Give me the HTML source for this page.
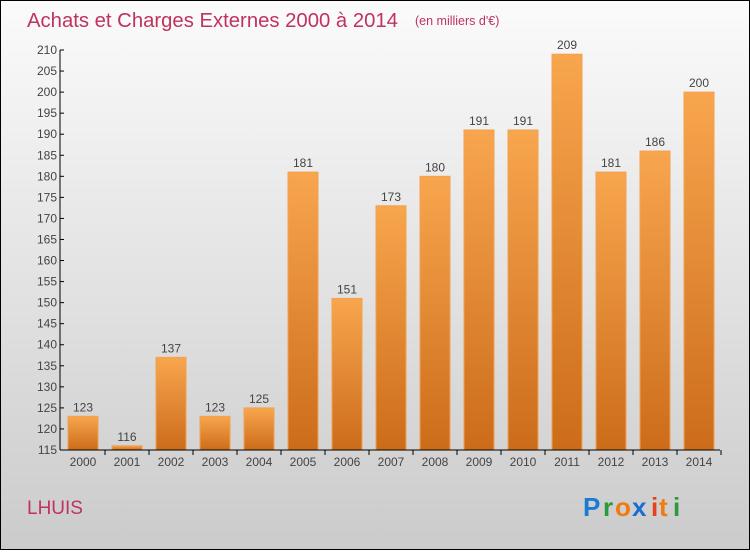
<!DOCTYPE html>
<html><head><meta charset="utf-8">
<style>
html,body{margin:0;padding:0;}
body{width:750px;height:550px;overflow:hidden;font-family:"Liberation Sans",sans-serif;}
</style></head>
<body>
<svg width="750" height="550" xmlns="http://www.w3.org/2000/svg">
<defs>
<linearGradient id="bg" x1="0" y1="0" x2="0" y2="1">
<stop offset="0" stop-color="#fbfbfb"/><stop offset="1" stop-color="#cbcbcb"/>
</linearGradient>
<linearGradient id="bar" x1="0" y1="0" x2="0" y2="1">
<stop offset="0" stop-color="#f8a64e"/><stop offset="1" stop-color="#cc6c1a"/>
</linearGradient>
</defs>
<rect x="0.5" y="0.5" width="749" height="549" fill="url(#bg)" stroke="#000"/>
<text x="27" y="27" font-size="20.3" fill="#c0335f">Achats et Charges Externes 2000 à 2014</text>
<text x="415" y="25" font-size="12.5" fill="#c0335f">(en milliers d'€)</text>
<g id="yaxis"></g>
<g id="bars"></g>
<g id="xaxis"></g>
<text x="27" y="514" font-size="19" fill="#c0335f">LHUIS</text>
<g font-size="26" font-weight="bold" font-family="'Liberation Sans',sans-serif">
<text x="583" y="516" fill="#1a7ad4">P</text>
<text x="603" y="516" fill="#2a9a3a">r</text>
<text x="615" y="516" fill="#f07a10">o</text>
<text x="632" y="516" fill="#1a6ed0">x</text>
<text x="651" y="516" fill="#e8401a">i</text>
<text x="659" y="516" fill="#f07a10">t</text>
<text x="673" y="516" fill="#2a9a3a">i</text>
</g>
</svg>
<script>
const years=["2000","2001","2002","2003","2004","2005","2006","2007","2008","2009","2010","2011","2012","2013","2014"];
const values=[123,116,137,123,125,181,151,173,180,191,191,209,181,186,200];
const yTicks=[115,120,125,130,135,140,145,150,155,160,165,170,175,180,185,190,195,200,205,210];
const NS="http://www.w3.org/2000/svg";
const yMin=115,yMax=210,plotTop=50,plotBot=450,plotLeft=60,x0=83,step=44,bw=30;
const yS=v=>plotBot-(v-yMin)/(yMax-yMin)*(plotBot-plotTop);
const xS=i=>x0+i*step;
function mk(tag,attrs,parent,txt){const e=document.createElementNS(NS,tag);for(const k in attrs)e.setAttribute(k,attrs[k]);if(txt!==undefined)e.textContent=txt;parent.appendChild(e);return e;}
const ya=document.getElementById('yaxis'),ba=document.getElementById('bars'),xa=document.getElementById('xaxis');
let l=mk('line',{x1:plotLeft,x2:plotLeft,y1:plotTop,y2:plotBot,stroke:'#000','stroke-width':1},ya);


yTicks.forEach(t=>{
 let tk=mk('line',{x1:plotLeft,x2:plotLeft+4,y1:yS(t),y2:yS(t),stroke:'#000'},ya);
 
 
 let tx=mk('text',{x:plotLeft-3,y:yS(t)+4,'text-anchor':'end','font-size':12,fill:'#444'},ya,t);
 
 
});
let xl=mk('line',{x1:plotLeft,x2:720,y1:plotBot,y2:plotBot,stroke:'#000'},xa);


years.forEach((yr,i)=>{
 const v=values[i];
 let r=mk('rect',{x:xS(i)-bw/2,y:yS(v),width:bw,height:plotBot-yS(v),fill:'url(#bar)',stroke:'#f4a050','stroke-width':1},ba);
 
 
 let vt=mk('text',{x:xS(i),y:yS(v)-5,'text-anchor':'middle','font-size':12,fill:'#444'},ba,v);
 
 
 let tk=mk('line',{x1:xS(i)+step/2,x2:xS(i)+step/2,y1:plotBot,y2:plotBot+5,stroke:'#000'},xa);
 
 
 let xt=mk('text',{x:xS(i),y:plotBot+16,'text-anchor':'middle','font-size':12,fill:'#444'},xa,yr);
 
 
});
</script>
</body></html>
